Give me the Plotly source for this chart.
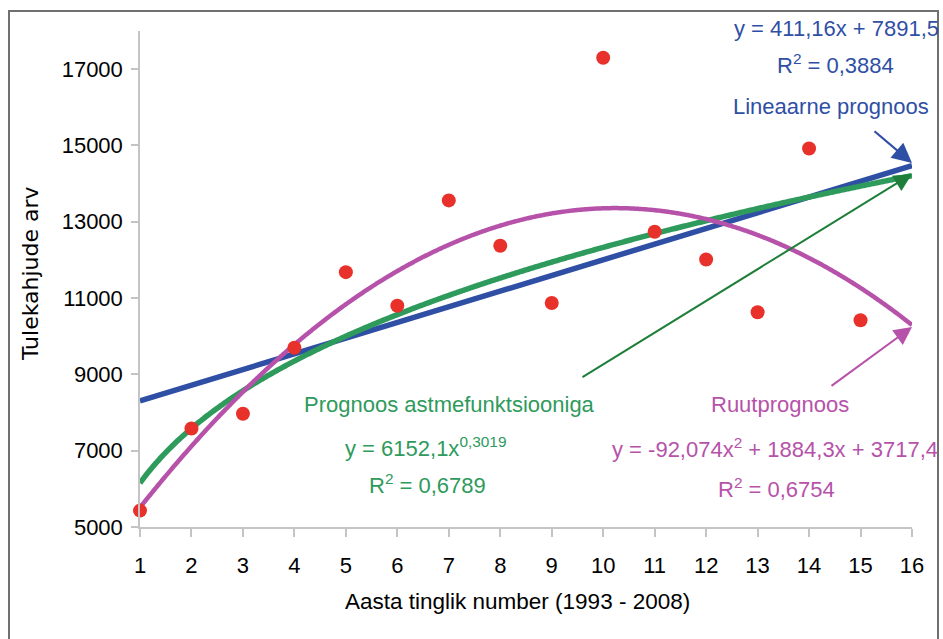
import numpy as np
import plotly.graph_objects as go

# ---- data ----
years_idx = list(range(1, 16))
fires = [5430, 7580, 7970, 9700, 11680, 10800, 13560, 12370, 10870, 17300, 12740, 12010, 10630, 14920, 10420]
x_ticks = list(range(1, 17))
y_ticks = [5000, 7000, 9000, 11000, 13000, 15000, 17000]

# trendline coefficients as printed on the chart
lin_a, lin_b = 411.16, 7891.5
pow_a, pow_b = 6152.1, 0.3019
quad_a, quad_b, quad_c = -92.074, 1884.3, 3717.4

# ---- geometry ----
W, H = 943, 639
L, R, T, B = 140, 912, 31, 527
XMIN, XMAX, YMIN, YMAX = 1, 16, 5000, 18000

def px2x(px):
    return XMIN + (px - L) * (XMAX - XMIN) / (R - L)

def py2y(py):
    return YMIN + (B - py) * (YMAX - YMIN) / (B - T)

def ppx(px):
    return (px - L) / (R - L)

def ppy(py):
    return (B - py) / (B - T)

BLUE = "#2f4fa5"
GREEN = "#2e9a5c"
GREEN_DARK = "#1f7f3a"
PURPLE = "#b652a9"
RED = "#e8312a"

xs = np.linspace(1, 16, 400)
lin_y = lin_a * xs + lin_b
pow_y = pow_a * xs ** pow_b
quad_y = quad_a * xs ** 2 + quad_b * xs + quad_c

fig = go.Figure()
fig.add_trace(go.Scatter(x=xs, y=lin_y, mode="lines", line=dict(color=BLUE, width=5.5), cliponaxis=False, hoverinfo="skip"))
fig.add_trace(go.Scatter(x=xs, y=pow_y, mode="lines", line=dict(color=GREEN, width=5.5, shape="spline"), cliponaxis=False, hoverinfo="skip"))
fig.add_trace(go.Scatter(x=xs, y=quad_y, mode="lines", line=dict(color=PURPLE, width=4.5, shape="spline"), cliponaxis=False, hoverinfo="skip"))
fig.add_trace(go.Scatter(x=years_idx, y=fires, mode="markers",
                         marker=dict(color=RED, size=14, line=dict(width=0)), cliponaxis=False))

TXT = "Liberation Sans, Arial, sans-serif"

def label(text, cx, cy, color, size=22):
    fig.add_annotation(x=ppx(cx), y=ppy(cy), xref="paper", yref="paper", text=text,
                       showarrow=False, xanchor="center", yanchor="middle",
                       font=dict(family=TXT, size=size, color=color))

label("y = 411,16x + 7891,5", 836, 29, BLUE)
label("R<sup>2</sup> = 0,3884", 835, 64, BLUE)
label("Lineaarne prognoos", 831, 106, BLUE)

label("Prognoos astmefunktsiooniga", 449, 404, GREEN)
label("y = 6152,1x<sup>0,3019</sup>", 425, 447, GREEN)
label("R<sup>2</sup> = 0,6789", 427, 484, GREEN)

label("Ruutprognoos", 780, 404, PURPLE)
label("y = -92,074x<sup>2</sup> + 1884,3x + 3717,4", 775, 448, PURPLE)
label("R<sup>2</sup> = 0,6754", 776, 488, PURPLE)

def arrow(x0, y0, x1, y1, color, width=2):
    fig.add_annotation(x=px2x(x1), y=py2y(y1), ax=px2x(x0), ay=py2y(y0),
                       xref="x", yref="y", axref="x", ayref="y", text="",
                       showarrow=True, arrowhead=2, arrowsize=1.8, arrowwidth=width,
                       arrowcolor=color, standoff=0, startstandoff=0)

arrow(873, 130, 912, 163, BLUE, 2.2)
arrow(581, 378, 912, 174, GREEN_DARK, 2)
arrow(830, 387, 912, 327, PURPLE, 2)

# axis titles
fig.add_annotation(x=ppx(517), y=ppy(601), xref="paper", yref="paper",
                   text="Aasta tinglik number (1993 - 2008)", showarrow=False,
                   xanchor="center", yanchor="middle",
                   font=dict(family=TXT, size=22.5, color="black"))
fig.add_annotation(x=ppx(30), y=ppy(274), xref="paper", yref="paper",
                   text="Tulekahjude arv", showarrow=False, textangle=-90,
                   xanchor="center", yanchor="middle",
                   font=dict(family="DejaVu Sans, sans-serif", size=22, color="black"))

# frame
fig.add_shape(type="rect", xref="paper", yref="paper",
              x0=ppx(9), x1=ppx(938), y0=ppy(660), y1=ppy(11),
              line=dict(color="#707070", width=2), fillcolor="rgba(0,0,0,0)", layer="below")

fig.update_layout(
    width=W, height=H,
    margin=dict(l=L, r=W - R, t=T, b=H - B),
    paper_bgcolor="white", plot_bgcolor="white",
    showlegend=False,
    xaxis=dict(range=[XMIN, XMAX], tickvals=x_ticks, showgrid=False, zeroline=False,
               showline=True, linecolor="#c4c4c4", linewidth=1.5,
               ticks="outside", ticklen=8, tickcolor="#c4c4c4", tickwidth=1.5,
               ticklabelstandoff=10,
               tickfont=dict(family=TXT, size=22, color="black")),
    yaxis=dict(range=[YMIN, YMAX], tickvals=y_ticks, tickformat="d", showgrid=False, zeroline=False,
               showline=True, linecolor="#c4c4c4", linewidth=1.5,
               ticks="outside", ticklen=7, tickcolor="#c4c4c4", tickwidth=1.5,
               ticklabelstandoff=4,
               tickfont=dict(family=TXT, size=22, color="black")),
)

fig.write_html("out.html", config={"displayModeBar": False},
               post_script="document.body.style.margin='0';")
